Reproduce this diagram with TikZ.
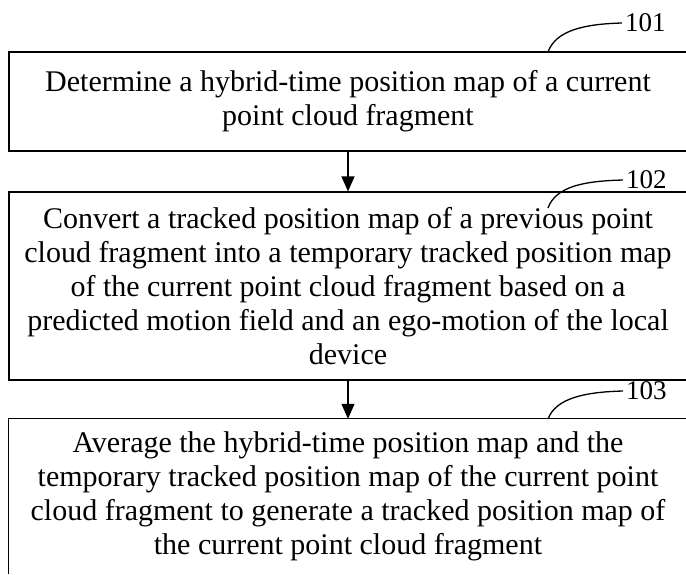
\documentclass[tikz,border=0pt]{standalone}
\usepackage{fontspec}
\setmainfont{Liberation Serif}
\usetikzlibrary{arrows.meta}
\begin{document}
\begin{tikzpicture}[x=1pt,y=-1pt,
  stepbox/.style={draw=black,line width=1.2pt,inner sep=0pt,minimum width=678pt,align=center,
    font=\fontsize{30}{34}\selectfont},
  openbox/.style={inner sep=0pt,minimum width=678pt,align=center,
    font=\fontsize{30}{34}\selectfont},
  tag/.style={inner sep=3pt,font=\fontsize{27}{30}\selectfont},
  flow/.style={line width=1.2pt,-{Triangle[length=15pt,width=13pt]}},
  leader/.style={line width=1.3pt}]
\useasboundingbox (0,0) rectangle (686,574);
\node[stepbox,minimum height=99pt] (b1) at (348,101.5)
  {Determine a hybrid-time position map of a current\\point cloud fragment};
\node[stepbox,minimum height=188pt] (b2) at (348,286)
  {Convert a tracked position map of a previous point\\cloud fragment into a temporary tracked position map\\of the current point cloud fragment based on a\\predicted motion field and an ego-motion of the local\\device};
\node[openbox,minimum height=155pt] (b3) at (348,496.5)
  {Average the hybrid-time position map and the\\temporary tracked position map of the current point\\cloud fragment to generate a tracked position map of\\the current point cloud fragment};
\draw[line width=1.2pt] (b3.south west) -- (b3.north west) -- (b3.north east) -- (b3.south east);
\draw[flow] (b1.south) -- (b2.north);
\draw[flow] (b2.south) -- (b3.north);
\node[tag,anchor=west] (l1) at (622,23) {101};
\node[tag,anchor=west] (l2) at (623,180) {102};
\node[tag,anchor=west] (l3) at (623,391) {103};
\coordinate (c1) at (548,52);
\coordinate (c2) at (548,208);
\coordinate (c3) at (548,419);
\draw[leader] (l1.west) .. controls (585,24) and (556,30) .. (c1);
\draw[leader] (l2.west) .. controls (585,181) and (556,186) .. (c2);
\draw[leader] (l3.west) .. controls (585,392) and (556,398) .. (c3);
\end{tikzpicture}
\end{document}
